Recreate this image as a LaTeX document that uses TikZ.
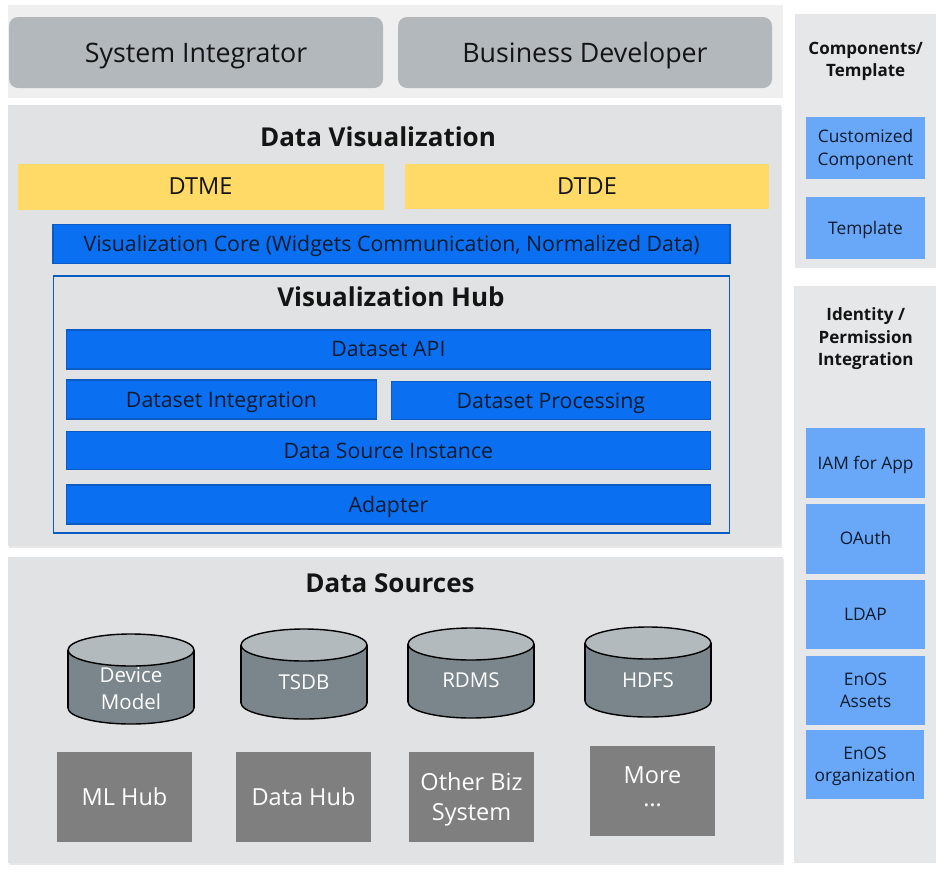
\documentclass[tikz,border=0pt]{standalone}
\usepackage{fontspec}
\setmainfont{Open Sans}
\usetikzlibrary{shadows}
\definecolor{bandbg}{HTML}{EFEFEF}
\definecolor{actorbg}{HTML}{B2B8BB}
\definecolor{panelbg}{HTML}{E1E2E4}
\definecolor{sidebg}{HTML}{E6E7E8}
\definecolor{yel}{HTML}{FFDA66}
\definecolor{blu}{HTML}{0A6FF0}
\definecolor{bluedge}{HTML}{0B5BC4}
\definecolor{lblue}{HTML}{69A8F8}
\definecolor{cyltop}{HTML}{B3BABD}
\definecolor{cylbody}{HTML}{7A868B}
\definecolor{grayrect}{HTML}{7F7F7F}
\definecolor{txt}{HTML}{141414}
\definecolor{navy}{HTML}{0D1B2E}
\newcommand{\fs}[1]{\fontsize{#1pt}{#1pt}\selectfont}
\newcommand{\dbcyl}[7]{%
  \filldraw[fill=cylbody, draw=black, line width=1.4pt] (#1,#3) ellipse [x radius=63pt, y radius=16pt];
  \fill[cylbody] (#1-63,#2) rectangle (#1+63,#3);
  \draw[line width=1.4pt] (#1-63,#2) -- (#1-63,#3) (#1+63,#2) -- (#1+63,#3);
  \filldraw[fill=cyltop, draw=black, line width=1.4pt] (#1,#2) ellipse [x radius=63pt, y radius=16pt];
  \node[cyltext, text height=#7] (#4) at (#1,#5) {#6};
}
\begin{document}
\begin{tikzpicture}[x=1pt, y=-1pt,
  panel/.style={fill=panelbg, drop shadow={shadow xshift=1pt, shadow yshift=-1.5pt, opacity=0.18}},
  side/.style={fill=sidebg},
  actor/.style={rounded corners=9pt, fill=actorbg, inner sep=0pt, text=txt, font=\fs{26.8}, text height=19.1pt, text depth=0pt},
  title/.style={text=txt, font=\fs{26}\bfseries, inner sep=0pt, text height=18.6pt, text depth=0pt},
  stitle/.style={text=txt, font=\fontsize{17pt}{22.5pt}\selectfont\bfseries, align=center, inner sep=0pt, text height=12.1pt, text depth=0pt},
  yelbox/.style={fill=yel, inner sep=0pt, text=txt, font=\fs{23.5}, text height=16.8pt, text depth=0pt},
  bluebox/.style={fill=blu, draw=bluedge, line width=1.8pt, inner sep=0pt, text=navy, font=\fs{21.3}, text height=15.2pt, text depth=0pt},
  lbbox/.style={fill=lblue, inner sep=0pt, text=navy, font=\fontsize{17.3pt}{22.3pt}\selectfont, align=center, text height=12.4pt, text depth=0pt},
  grbox/.style={fill=grayrect, inner sep=0pt, text=white, font=\fontsize{23.5pt}{30pt}\selectfont, align=center, text height=16.8pt, text depth=0pt},
  cyltext/.style={text=white, font=\fontsize{20.5pt}{27pt}\selectfont, align=center, inner sep=0pt, text depth=0pt}
]
\useasboundingbox (0,0) rectangle (945,876);
\fill[white] (0,0) rectangle (945,876);

% top band
\fill[bandbg] (8,5) rectangle (783,98);
\node[actor, minimum width=374pt, minimum height=71pt] (sysint) at (196,52.5) {System Integrator};
\node[actor, minimum width=374pt, minimum height=71pt] (busdev) at (585,52.5) {Business Developer};

% Data Visualization panel
\path[panel] (8,105) rectangle (781,546);
\node[title] (dvtitle) at (378,137.5) {Data Visualization};
\node[yelbox, minimum width=366pt, minimum height=46pt] (dtme) at (200.5,186.5) {DTME};
\node[yelbox, minimum width=364pt, minimum height=45pt] (dtde) at (587,186.5) {DTDE};
\node[bluebox, minimum width=677pt, minimum height=39pt] (core) at (391.7,244) {Visualization Core (Widgets Communication, Normalized Data)};
\node[draw=bluedge, line width=1.8pt, minimum width=676pt, minimum height=257pt, inner sep=0pt] (hub) at (391.5,404.5) {};
\node[title] (hubtitle) at (391,297.5) {Visualization Hub};
\node[bluebox, minimum width=644pt, minimum height=39pt] (api) at (388.4,349.2) {Dataset API};
\node[bluebox, minimum width=310pt, minimum height=39pt] (integ) at (221.5,399.8) {Dataset Integration};
\node[bluebox, minimum width=319pt, minimum height=38pt] (proc) at (550.9,400.5) {Dataset Processing};
\node[bluebox, minimum width=644pt, minimum height=38pt] (dsi) at (388.4,450.5) {Data Source Instance};
\node[bluebox, minimum width=644pt, minimum height=39pt] (adapter) at (388.4,504.8) {Adapter};

% Data Sources panel
\path[panel] (8,557) rectangle (783,863);
\node[title] (dstitle) at (390,583) {Data Sources};
\dbcyl{131}{650}{708}{devmodel}{688.4}{Device\\Model}{41.6pt}
\dbcyl{304}{645}{703}{tsdb}{681.7}{TSDB}{14.6pt}
\dbcyl{471}{644}{702}{rdms}{680.5}{RDMS}{14.6pt}
\dbcyl{648}{643}{701}{hdfs}{680}{HDFS}{14.6pt}
\node[grbox, minimum width=135pt, minimum height=90pt] (mlhub) at (124.5,796.7) {ML Hub};
\node[grbox, minimum width=135pt, minimum height=90pt] (datahub) at (303.5,796.7) {Data Hub};
\node[grbox, minimum width=125pt, minimum height=90pt, text height=46.8pt] (otherbiz) at (471.5,796.7) {Other Biz\\System};
\node[grbox, minimum width=125pt, minimum height=90pt, font=\fontsize{23.5pt}{23pt}\selectfont, text height=39.8pt, text depth=8pt] (more) at (652.5,791) {More\\…};

% right column: Components/Template
\fill[side] (795,14) rectangle (936,268);
\node[stitle, text height=34.6pt] (comptitle) at (865.7,59.5) {Components/\\Template};
\node[lbbox, minimum width=119pt, minimum height=62pt, text height=34.7pt] (custcomp) at (865.5,147.9) {Customized\\Component};
\node[lbbox, minimum width=119pt, minimum height=62pt] (template) at (865.5,228.3) {Template};

% right column: Identity
\fill[side] (794,286) rectangle (936,863);
\node[stitle, text height=57.1pt] (idtitle) at (865.7,337) {Identity /\\Permission\\Integration};
\node[lbbox, minimum width=119pt, minimum height=70pt] (iam) at (865.5,462.8) {IAM for App};
\node[lbbox, minimum width=119pt, minimum height=70pt] (oauth) at (865.5,538.7) {OAuth};
\node[lbbox, minimum width=119pt, minimum height=69pt] (ldap) at (865.5,614.2) {LDAP};
\node[lbbox, minimum width=119pt, minimum height=69pt, text height=34.7pt] (enosassets) at (865.5,690) {EnOS\\Assets};
\node[lbbox, minimum width=118pt, minimum height=69pt, text height=34.7pt] (enosorg) at (865,764.2) {EnOS\\organization};
\end{tikzpicture}
\end{document}
